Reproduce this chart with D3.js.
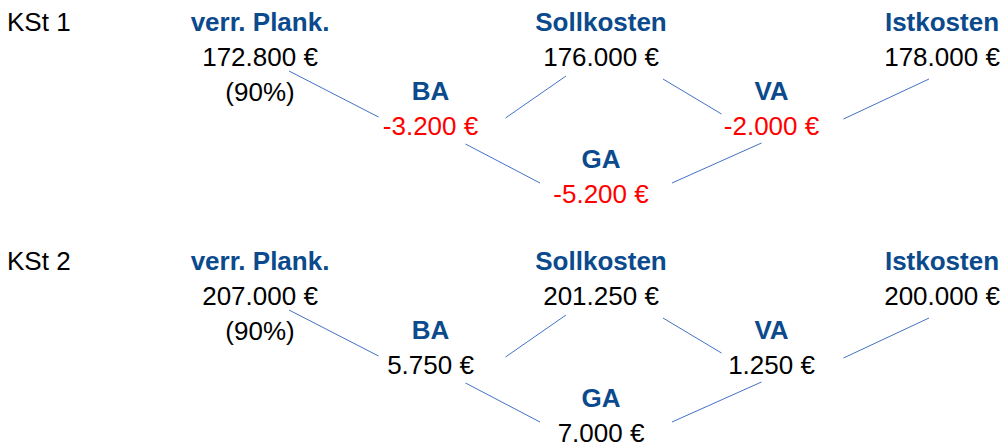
<!DOCTYPE html>
<html>
<head>
<meta charset="utf-8">
<script src="https://cdn.jsdelivr.net/npm/d3@7"></script>
<style>
	html, body { margin: 0; padding: 0; background: #fff; }
	svg { display: block; font-family: "Liberation Sans", Arial, sans-serif; }
	.title { font-weight: bold; fill: #0b4a8c; }
	.value { fill: #000; }
	.neg { fill: #ff0000; }
	.edge { stroke: #4472c4; stroke-width: 1; fill: none; }
</style>
</head>
<body>
<div id="chart"></div>
<script>
let WIDTH = 1007;
let HEIGHT = 446;
let FONT_SIZE = 26;
let LINE_GAP = 35;

// data
let kst = ['KSt 1', 'KSt 2'];
let planKosten = [172800, 207000];
let beschGrad = [90, 90];
let sollKosten = [176000, 201250];
let istKosten = [178000, 200000];
let baValues = [-3200, 5750];
let vaValues = [-2000, 1250];
let gaValues = [-5200, 7000];

let nodeKeys = ['plan', 'ba', 'soll', 'va', 'ist', 'ga'];
let nodeTitles = ['verr. Plank.', 'BA', 'Sollkosten', 'VA', 'Istkosten', 'GA'];
let nodeSeries = [planKosten, baValues, sollKosten, vaValues, istKosten, gaValues];
let nodeColumn = [0, 1, 2, 3, 4, 2];
let nodeLevel = [0, 1, 0, 1, 0, 2];

let edges = [['plan', 'ba'], ['soll', 'ba'], ['soll', 'va'], ['ist', 'va'], ['ba', 'ga'], ['va', 'ga']];
// how far each connector is pulled back from its two labels (layout only)
let edgeTrim = [
	{ux: 29, uy: 5, lx: -52, ly: 17.5},
	{ux: -35, uy: 10, lx: 75, ly: 18.5},
	{ux: 62, uy: 13, lx: -50, ly: 14.5},
	{ux: -13, uy: 13, lx: 72, ly: 19.5},
	{ux: 35, uy: 9.5, lx: -61, ly: 15},
	{ux: -10, uy: 8.5, lx: 71, ly: 15}
];

let de = d3.formatLocale({decimal: ',', thousands: '.', grouping: [3], currency: ['', ' €'], minus: '-'});
let euro = de.format('$,.0f');

let x = d3.scalePoint().domain([0, 1, 2, 3, 4]).range([260, 942]);
let level = d3.scaleLinear().domain([0, 2]).range([31, 168]);
let row = d3.scaleLinear().domain([0, 1]).range([0, 239]);

let svg = d3.select('#chart').append('svg')
	.attr('width', WIDTH)
	.attr('height', HEIGHT)
	.style('font-size', FONT_SIZE + 'px');

let nodes = nodeKeys.map((k, i) => ({key: k, title: nodeTitles[i], series: nodeSeries[i], col: nodeColumn[i], lvl: nodeLevel[i]}));
let byKey = {};
nodes.forEach((n) => { byKey[n.key] = n; });

kst.forEach((name, r) => {
	let g = svg.append('g').attr('transform', 'translate(0,' + row(r) + ')');

	g.append('text')
		.attr('class', 'value')
		.attr('x', 7)
		.attr('y', level(0))
		.text(name);

	g.selectAll('.edge').data(edges).enter().append('line')
		.attr('class', 'edge')
		.attr('x1', (d, i) => x(byKey[d[0]].col) + edgeTrim[i].ux)
		.attr('y1', (d, i) => level(byKey[d[0]].lvl) + LINE_GAP + edgeTrim[i].uy)
		.attr('x2', (d, i) => x(byKey[d[1]].col) + edgeTrim[i].lx)
		.attr('y2', (d, i) => level(byKey[d[1]].lvl) + edgeTrim[i].ly);

	let node = g.selectAll('.node').data(nodes).enter().append('g')
		.attr('class', 'node')
		.attr('transform', (d) => 'translate(' + x(d.col) + ',' + level(d.lvl) + ')');

	node.append('text')
		.attr('class', 'title')
		.attr('text-anchor', 'middle')
		.text((d) => d.title);

	node.append('text')
		.attr('class', (d) => d.series[r] < 0 ? 'neg' : 'value')
		.attr('text-anchor', 'middle')
		.attr('y', LINE_GAP)
		.text((d) => euro(d.series[r]));

	node.filter((d) => d.key === 'plan').append('text')
		.attr('class', 'value')
		.attr('text-anchor', 'middle')
		.attr('y', LINE_GAP * 2)
		.text('(' + beschGrad[r] + '%)');
});
</script>
</body>
</html>
